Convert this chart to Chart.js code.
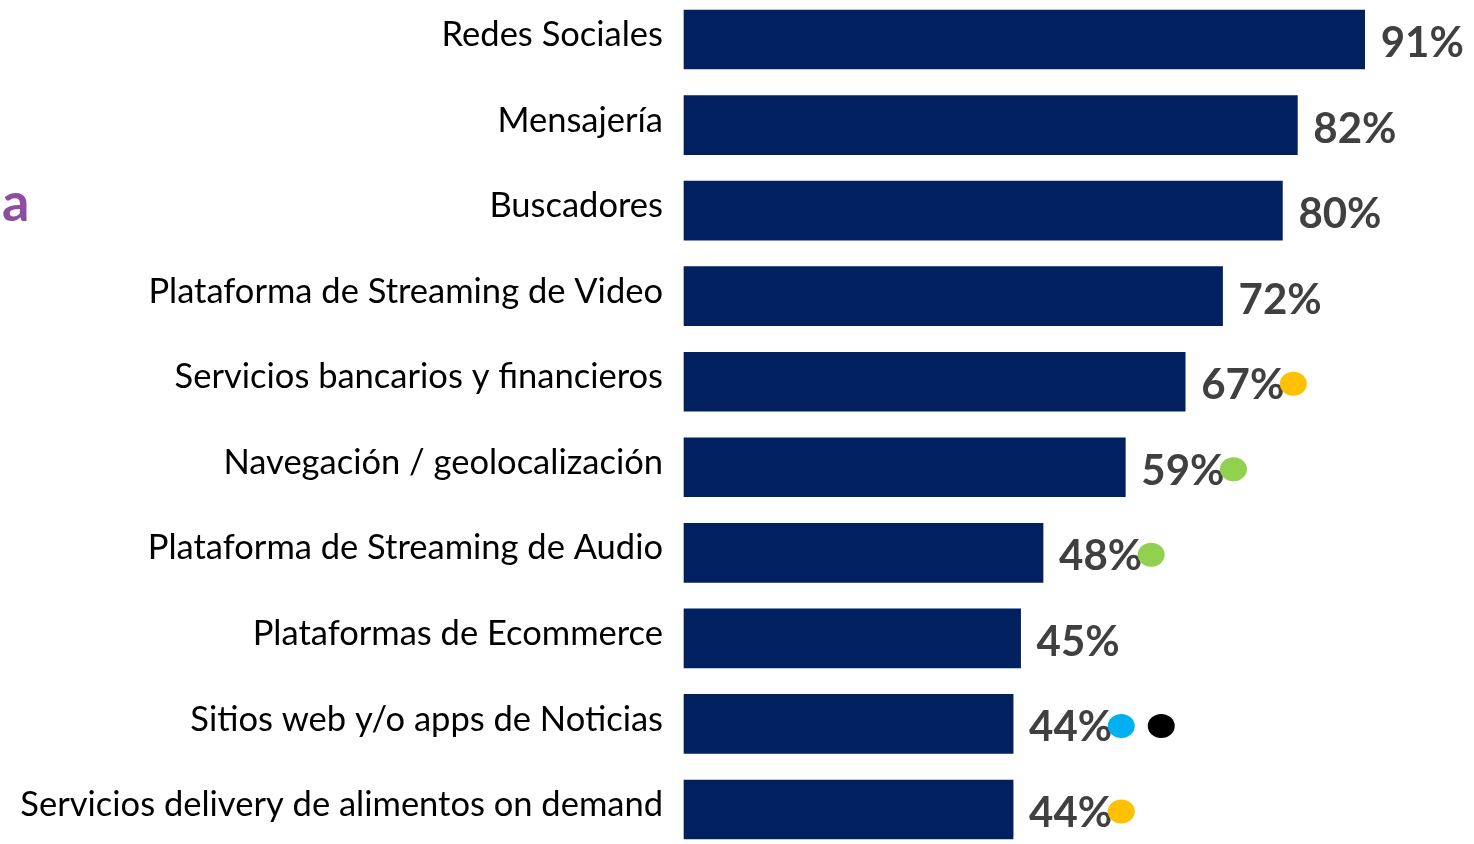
<!DOCTYPE html>
<html>
<head>
<meta charset="utf-8">
<script src="https://cdn.jsdelivr.net/npm/chart.js@4"></script>
<style>
  html, body { margin: 0; padding: 0; background: #fff; }
  #wrap { position: relative; width: 1474px; height: 844px; }
  #side { position: absolute; left: 2px; top: 168px; font: bold 54px Lato, sans-serif; color: #8E4EA0; }
</style>
</head>
<body>
<div id="wrap">
  <canvas id="c" width="1474" height="844"></canvas>
  <div id="side">a</div>
</div>
<script>
const categories = [
  'Redes Sociales',
  'Mensajería',
  'Buscadores',
  'Plataforma de Streaming de Video',
  'Servicios bancarios y financieros',
  'Navegación / geolocalización',
  'Plataforma de Streaming de Audio',
  'Plataformas de Ecommerce',
  'Sitios web y/o apps de Noticias',
  'Servicios delivery de alimentos on demand'
]
const values = [91, 82, 80, 72, 67, 59, 48, 45, 44, 44]
// markers shown after each value label
const dotColors = [[], [], [], [], ['#FFC000'], ['#92D050'], ['#92D050'], [], ['#00B0F0', '#000000'], ['#FFC000']]

const valueLabels = {
  id: 'valueLabels',
  afterDatasetsDraw(chart) {
    const ctx = chart.ctx
    const meta = chart.getDatasetMeta(0)
    ctx.save()
    ctx.font = 'bold 42px Lato, sans-serif'
    ctx.textBaseline = 'middle'
    meta.data.forEach((bar, i) => {
      const txt = values[i] + '%'
      const x = bar.x + 16
      ctx.fillStyle = '#404040'
      ctx.fillText(txt, x, bar.y + 4)
      const w = ctx.measureText(txt).width
      dotColors[i].forEach((col, k) => {
        ctx.beginPath()
        ctx.fillStyle = col
        ctx.ellipse(x + w + 9 + k * 40, bar.y + 2, 13.5, 12, 0, 0, Math.PI * 2)
        ctx.fill()
      })
    })
    ctx.restore()
  }
}

new Chart(document.getElementById('c'), {
  type: 'bar',
  data: {
    labels: categories,
    datasets: [{
      data: values,
      backgroundColor: '#002060',
      barThickness: 59,
      clip: false
    }]
  },
  options: {
    indexAxis: 'y',
    responsive: false,
    animation: false,
    layout: { padding: { top: 39.5, bottom: 34.5, right: 42, left: 0 } },
    plugins: { legend: { display: false }, tooltip: { enabled: false } },
    scales: {
      x: { display: false, min: 0, max: 100 },
      y: {
        offset: false,
        grid: { display: false, drawTicks: false },
        border: { display: false },
        ticks: {
          padding: 21,
          color: '#000000',
          // empty 2nd line lifts the text a few px above bar centre
          callback(v) { return [this.getLabelForValue(v), ''] },
          font: { family: 'Lato, sans-serif', size: 34.5, lineHeight: '9px' }
        },
        afterFit(scale) { scale.width = 684 }
      }
    }
  },
  plugins: [valueLabels]
})
</script>
</body>
</html>
